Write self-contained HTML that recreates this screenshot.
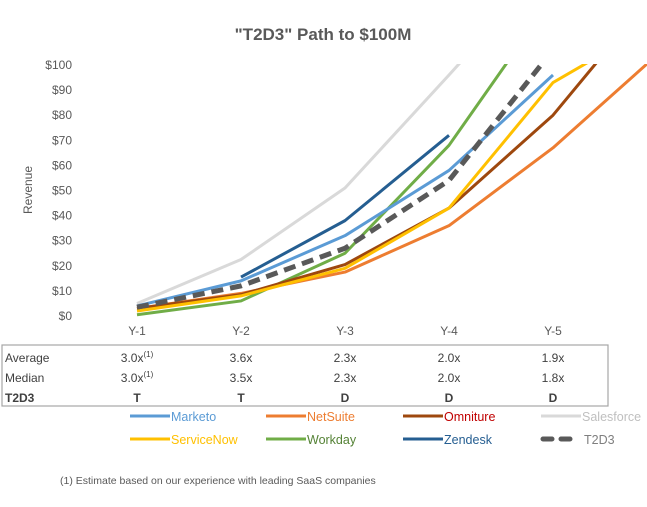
<!DOCTYPE html>
<html><head><meta charset="utf-8"><style>
body{margin:0;background:#fff;width:647px;height:502px;overflow:hidden;font-family:"Liberation Sans",sans-serif}
svg text{font-family:"Liberation Sans",sans-serif}
</style></head><body>
<svg id="chart" width="647" height="502" xmlns="http://www.w3.org/2000/svg">
<text x="323" y="40" text-anchor="middle" font-size="17" font-weight="bold" fill="#595959">"T2D3" Path to $100M</text>
<text transform="translate(32,190) rotate(-90)" text-anchor="middle" font-size="12" fill="#595959">Revenue</text>
<defs><clipPath id="plotclip"><rect x="0" y="64" width="647" height="270"/></clipPath></defs>
<g id="yticks"></g><g id="xticks"></g>
<g id="lines" clip-path="url(#plotclip)"></g>
<rect x="2" y="345" width="606" height="61" fill="none" stroke="#a6a6a6" stroke-width="1.2"/>
<g id="table" font-size="12" fill="#404040"></g>
<g id="legend" font-size="12.5"></g>
<text x="60" y="484" font-size="10.5" fill="#595959">(1)  Estimate based on our experience with leading SaaS companies</text>
</svg>
<script>
const categories=["Y-1","Y-2","Y-3","Y-4","Y-5","Y-6"];
const yTicks=[0,10,20,30,40,50,60,70,80,90,100];
const seriesNames=["Salesforce","Zendesk","Workday","Marketo","NetSuite","Omniture","ServiceNow","T2D3"];
const salesforce=[5,22.5,51,96,142,null];
const zendesk=[null,15.5,38,72,null,null];
const workday=[0.5,6,25,68,127,null];
const marketo=[4,14,32,58,96,null];
const netsuite=[3,9,17.5,36,67,104];
const omniture=[3,8.5,20.5,43,80,130];
const servicenow=[2,8,19,43,93,117];
const t2d3=[3.5,12,27,54,106,null];
const avgRow=["3.0x","3.6x","2.3x","2.0x","1.9x"];
const medRow=["3.0x","3.5x","2.3x","2.0x","1.8x"];
const t2d3Row=["T","T","D","D","D"];
const NS="http://www.w3.org/2000/svg";
const X=i=>137+i*104;
const Y=v=>316-v*2.51;
function mk(tag,attrs,parent){const e=document.createElementNS(NS,tag);for(const k in attrs)e.setAttribute(k,attrs[k]);parent.appendChild(e);return e;}
const yt=document.getElementById('yticks');
yTicks.forEach(v=>{const t=mk('text',{x:72,y:Y(v)+4,'text-anchor':'end','font-size':12,fill:'#595959'},yt);t.textContent='$'+v;

});
const xt=document.getElementById('xticks');
categories.slice(0,5).forEach((c,i)=>{const t=mk('text',{x:X(i),y:335,'text-anchor':'middle','font-size':12,fill:'#595959'},xt);t.textContent=c;

});
const colors={Salesforce:"#d9d9d9",Zendesk:"#255e91",Workday:"#70ad47",Marketo:"#5b9bd5",NetSuite:"#ed7d31",Omniture:"#9e480e",ServiceNow:"#ffc000",T2D3:"#595959"};
const data={Salesforce:salesforce,Zendesk:zendesk,Workday:workday,Marketo:marketo,NetSuite:netsuite,Omniture:omniture,ServiceNow:servicenow,T2D3:t2d3};
const lg=document.getElementById('lines');
seriesNames.forEach(n=>{const pts=[];data[n].forEach((v,i)=>{if(v!=null)pts.push(X(i)+','+Y(v));});
const p=mk('polyline',{points:pts.join(' '),fill:'none',stroke:colors[n],'stroke-width':n==='T2D3'?5:3,'stroke-linejoin':'round','stroke-dasharray':n==='T2D3'?'12,7':'none'},lg);

});
const tb=document.getElementById('table');
[["Average",avgRow,362,false],["Median",medRow,382,false],["T2D3",t2d3Row,402,true]].forEach(r=>{
const l=mk('text',{x:5,y:r[2],'font-weight':r[3]?'bold':'normal'},tb);l.textContent=r[0];


r[1].forEach((v,i)=>{const t=mk('text',{x:X(i),y:r[2],'text-anchor':'middle','font-weight':r[3]?'bold':'normal'},tb);t.textContent=v;
if(i===0&&!r[3]){const s=mk('tspan',{'font-size':8,dy:-5},t);s.textContent='(1)';}

});});
const leg=document.getElementById('legend');
const legOrder=["Marketo","NetSuite","Omniture","Salesforce","ServiceNow","Workday","Zendesk","T2D3"];
const textCol={Marketo:"#5b9bd5",NetSuite:"#ed7d31",Omniture:"#c00000",Salesforce:"#bfbfbf",ServiceNow:"#ffc000",Workday:"#548235",Zendesk:"#255e91",T2D3:"#7f7f7f"};
const lx=[130,266,403,541];
legOrder.forEach((n,i)=>{const x=lx[i%4],y=i<4?420:443;
const g=mk('g',{},leg);


if(n==='T2D3'){mk('line',{x1:x+2,y1:y-4,x2:x+31,y2:y-4,stroke:colors[n],'stroke-width':5,'stroke-dasharray':'9,9','stroke-linecap':'round'},g);}
else{mk('line',{x1:x,y1:y-4,x2:x+40,y2:y-4,stroke:colors[n],'stroke-width':3},g);}
const t=mk('text',{x:n==='T2D3'?x+43:x+41,y:y+1,fill:textCol[n]},g);t.textContent=n;});
</script>
</body></html>
